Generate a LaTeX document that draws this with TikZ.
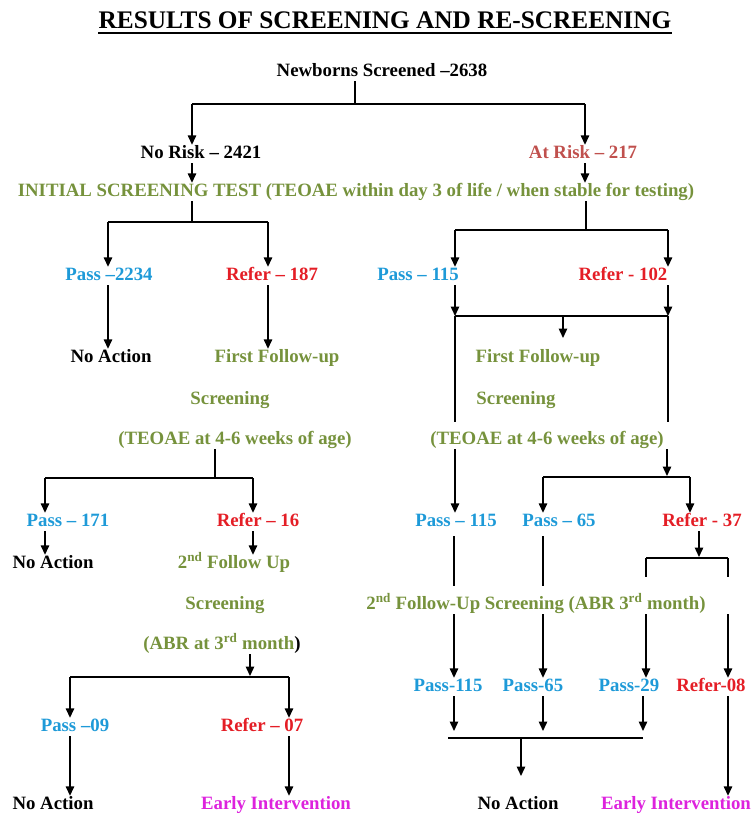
\documentclass[tikz,border=0pt]{standalone}
\usepackage{fontspec}
\setmainfont{Liberation Serif}
\usetikzlibrary{arrows.meta}
\definecolor{cblue}{HTML}{1E9AD8}
\definecolor{cred}{HTML}{E41E26}
\definecolor{cgreen}{HTML}{76923C}
\definecolor{crisk}{HTML}{C0504D}
\definecolor{cmag}{HTML}{DD22DD}
\begin{document}
\begin{tikzpicture}[x=1pt,y=-1pt,
  lbl/.style={inner sep=1pt, text height=12pt, text depth=4pt, anchor=base,
    font=\fontsize{18.8}{22}\selectfont\bfseries},
  blk/.style={lbl,text=black},
  grn/.style={lbl,text=cgreen},
  blu/.style={lbl,text=cblue},
  rd/.style={lbl,text=cred},
  mag/.style={lbl,text=cmag},
  ln/.style={line width=1.4pt},
  arr/.style={ln,-{Triangle[width=8.5pt,length=9.5pt]}}]
\useasboundingbox (0,0) rectangle (753,814);

% ---------- texts ----------
\node[inner sep=0, anchor=base, font=\fontsize{25.3}{30}\selectfont\bfseries] (title) at (385,28)
  {RESULTS OF SCREENING AND RE-SCREENING};
\draw[line width=1.3pt] ([yshift=-5pt]title.base west) -- ([yshift=-5pt]title.base east);

\node[blk] (nb) at (382,76) {Newborns Screened –2638};
\node[blk] (norisk) at (201,158) {No Risk – 2421};
\node[lbl,text=crisk] (atrisk) at (583,158) {At Risk – 217};
\node[grn] (init) at (356,196) {INITIAL SCREENING TEST (TEOAE within day 3 of life / when stable for testing)};
\node[blu] (pass1) at (109,280) {Pass –2234};
\node[rd] (refer1) at (272,280) {Refer – 187};
\node[blu] (pass2) at (418,280) {Pass – 115};
\node[rd] (refer2) at (623,280) {Refer - 102};
\node[blk] (noact1) at (111,362) {No Action};
\node[grn] (ff1) at (277,362) {First Follow-up};
\node[grn] (scr1) at (230,404) {Screening};
\node[grn] (teo1) at (235,444) {(TEOAE at 4-6 weeks of age)};
\node[grn] (ff2) at (538,362) {First Follow-up};
\node[grn] (scr2) at (516,404) {Screening};
\node[grn] (teo2) at (547,444) {(TEOAE at 4-6 weeks of age)};
\node[blu] (pass3) at (68,526) {Pass – 171};
\node[rd] (refer3) at (258,526) {Refer – 16};
\node[blk] (noact2) at (53,568) {No Action};
\node[grn] (fu2) at (234,568) {2\textsuperscript{nd} Follow Up};
\node[grn] (scr3) at (225,609) {Screening};
\node[grn] (abr1) at (222,649) {(ABR at 3\textsuperscript{rd} month\textcolor{black}{)}};
\node[blu] (pass4) at (75,731) {Pass –09};
\node[rd] (refer4) at (262,731) {Refer – 07};
\node[blk] (noact3) at (53,809) {No Action};
\node[mag] (ei1) at (276,809) {Early Intervention};
\node[blu] (pass5) at (456,526) {Pass – 115};
\node[blu] (pass6) at (559,526) {Pass – 65};
\node[rd] (refer5) at (702,526) {Refer - 37};
\node[grn] (fu3) at (536,609) {2\textsuperscript{nd} Follow-Up Screening (ABR 3\textsuperscript{rd} month)};
\node[blu] (pass7) at (448,691) {Pass-115};
\node[blu] (pass8) at (533,691) {Pass-65};
\node[blu] (pass9) at (629,691) {Pass-29};
\node[rd] (refer6) at (711,691) {Refer-08};
\node[blk] (noact4) at (518,809) {No Action};
\node[mag] (ei2) at (676,809) {Early Intervention};

% ---------- junctions ----------
\coordinate (t0) at (355,104); \coordinate (tl) at (192,104); \coordinate (tr) at (585,104);
\coordinate (il0) at (192,222); \coordinate (il1) at (108,222); \coordinate (il2) at (268,222);
\coordinate (ir0) at (586,230); \coordinate (ir1) at (455,230); \coordinate (ir2) at (668,230);
\coordinate (b1) at (455,316); \coordinate (b2) at (668,316); \coordinate (b3) at (563,316);
\coordinate (b1e) at (455,422); \coordinate (b2e) at (668,422); \coordinate (b3e) at (563,338);
\coordinate (l0) at (215,478); \coordinate (l1) at (45,478); \coordinate (l2) at (253,478);
\coordinate (a0) at (250,676); \coordinate (a1) at (70,677); \coordinate (a2) at (289,677);
\coordinate (r0) at (667,476); \coordinate (r1) at (543,477); \coordinate (r2) at (690,477);
\coordinate (s0) at (699,557); \coordinate (s1) at (646,558); \coordinate (s2) at (728,558);
\coordinate (s1e) at (646,577); \coordinate (s2e) at (728,577);
\coordinate (c1) at (454,586); \coordinate (c2) at (543,586);
\coordinate (d1) at (454,731); \coordinate (d2) at (543,731); \coordinate (d3) at (643,731);
\coordinate (e1) at (448,738); \coordinate (e2) at (643,738); \coordinate (e0) at (521,738); \coordinate (e0t) at (521,776);

% ---------- connectors ----------
\draw[ln] (nb.south -| t0) -- (t0);
\draw[ln] (tl) -- (tr);
\draw[arr] (tl) -- (norisk.north -| tl);
\draw[arr] (tr) -- (atrisk.north -| tr);
\draw[arr] (norisk.south -| tl) -- (init.north -| tl);
\draw[arr] (atrisk.south -| tr) -- (init.north -| tr);

\draw[ln] (init.south -| il0) -- (il0);
\draw[ln] (il1) -- (il2);
\draw[arr] (il1) -- (pass1.north -| il1);
\draw[arr] (il2) -- (refer1.north -| il2);
\draw[arr] (pass1.south -| il1) -- (noact1.north -| il1);
\draw[arr] (refer1.south -| il2) -- (ff1.north -| il2);

\draw[ln] (init.south -| ir0) -- (ir0);
\draw[ln] (ir1) -- (ir2);
\draw[arr] (ir1) -- (pass2.north -| ir1);
\draw[arr] (ir2) -- (refer2.north -| ir2);
\draw[arr] (pass2.south -| b1) -- (b1);
\draw[arr] (refer2.south -| b2) -- (b2);
\draw[ln] (b1) -- (b2);
\draw[ln] (b1) -- (b1e);
\draw[ln] (b2) -- (b2e);
\draw[arr] (b3) -- (b3e);

\draw[ln] (teo1.south -| l0) -- (l0);
\draw[ln] (l1) -- (l2);
\draw[arr] (l1) -- (pass3.north -| l1);
\draw[arr] (l2) -- (refer3.north -| l2);
\draw[arr] (pass3.south -| l1) -- (noact2.north -| l1);
\draw[arr] (refer3.south -| l2) -- (fu2.north -| l2);

\draw[arr] (abr1.south -| a0) -- (a0);
\draw[ln] (a1) -- (a2);
\draw[arr] (a1) -- (pass4.north -| a1);
\draw[arr] (a2) -- (refer4.north -| a2);
\draw[arr] (pass4.south -| a1) -- (noact3.north -| a1);
\draw[arr] (refer4.south -| a2) -- (ei1.north -| a2);

\draw[arr] (teo2.south -| b1) -- (pass5.north -| b1);
\draw[arr] (teo2.south -| r0) -- (r0);
\draw[ln] (r1) -- (r2);
\draw[arr] (r1) -- (pass6.north -| r1);
\draw[arr] (r2) -- (refer5.north -| r2);
\draw[arr] (refer5.south -| s0) -- (s0);
\draw[ln] (s1) -- (s2);
\draw[ln] (s1) -- (s1e);
\draw[ln] (s2) -- (s2e);
\draw[ln,shorten <=5pt] (pass5.south -| c1) -- (c1);
\draw[ln,shorten <=5pt] (pass6.south -| c2) -- (c2);

\draw[arr] (fu3.south -| c1) -- (pass7.north -| c1);
\draw[arr] (fu3.south -| c2) -- (pass8.north -| c2);
\draw[arr] (fu3.south -| s1) -- (pass9.north -| s1);
\draw[arr] (fu3.south -| s2) -- (refer6.north -| s2);

\draw[arr] (pass7.south -| d1) -- (d1);
\draw[arr] (pass8.south -| d2) -- (d2);
\draw[arr] (pass9.south -| d3) -- (d3);
\draw[ln] (e1) -- (e2);
\draw[arr] (e0) -- (e0t);
\draw[arr] (refer6.south -| s2) -- (ei2.north -| s2);
\end{tikzpicture}
\end{document}
